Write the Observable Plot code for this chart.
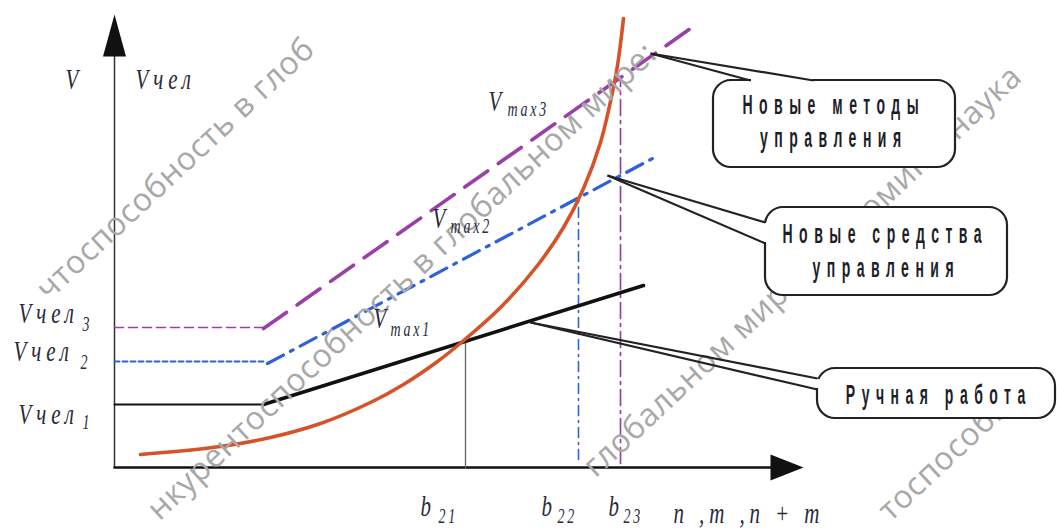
<!DOCTYPE html>
<html><head><meta charset="utf-8">
<script src="https://cdn.jsdelivr.net/npm/d3@7"></script>
<script src="https://cdn.jsdelivr.net/npm/@observablehq/plot@0.6"></script>
<style>
body{margin:0;background:#fff;}
#chart svg{display:block;}
</style></head><body><div id="chart"></div>
<script>
// ---- schematic data (abstract units: x — scale n, m, n+m; y — speed V) ----
// Ручная работа (manual work)
const manualFlatX = [0, 14.9], manualFlatY = [6.3, 6.3];
const manualRiseX = [14.9, 52.9], manualRiseY = [6.3, 18.2];
// Новые средства управления (new means of management)
const meansFlatX = [0, 15.1], meansFlatY = [10.6, 10.6];
const meansRiseX = [15.3, 53.8], meansRiseY = [10.4, 30.9];
// Новые методы управления (new methods of management)
const methodsFlatX = [0, 14.9], methodsFlatY = [14.0, 14.0];
const methodsRiseX = [14.9, 57.6], methodsRiseY = [13.9, 43.9];
// rising curve
const curveX = [2.6, 10.6, 15.6, 20.6, 25.6, 28.9, 32.3, 34.8, 38.6, 42.3, 44.9, 46.9, 48.6, 49.6, 50.3, 50.9];
const curveY = [1.3, 2.1, 3.0, 4.4, 6.5, 8.3, 10.6, 12.6, 16.0, 20.2, 24.0, 27.9, 32.5, 36.6, 40.2, 44.9];
// break points b21, b22, b23
const breakX = [35.1, 46.4, 50.6];
const breakTop = [12.7, 27.0, 39.0];
// axes extents
const xAxisEnd = 65.6, xArrowTip = 68.9;
const yAxisEnd = 41.2, yArrowTip = 45.3;

// labels
const mainLabels = ["V", "Vчел", "Vчел", "Vчел", "Vчел", "V", "V", "V", "b", "b", "b", "n ,m ,n + m"];
const mainLabelX = [-4.9, 2.1, -9.6, -10.1, -9.6, 37.4, 31.8, 25.9, 30.6, 42.7, 49.4, 55.9];
const mainLabelY = [37.9, 37.9, 14.5, 10.7, 4.4, 35.7, 24.0, 14.0, -4.8, -4.8, -4.8, -5.5];
const subLabels = ["3", "2", "1", "max3", "max2", "max1", "21", "22", "23"];
const subLabelX = [-3.2, -3.4, -3.2, 39.3, 33.6, 27.6, 32.4, 44.3, 50.9];
const subLabelY = [13.7, 9.9, 3.9, 35.2, 23.5, 13.2, -5.5, -5.5, -5.5];

// callouts
const boxX1 = [59.9, 65.1, 70.3], boxX2 = [84.1, 89.3, 94.1];
const boxY1 = [30.0, 17.2, 4.9], boxY2 = [38.7, 26.0, 9.9];
const tailTipX = [53.6, 49.3, 41.6], tailTipY = [41.4, 29.2, 14.5];
const tailAX = [63.6, 65.1, 70.3], tailAY = [38.7, 24.5, 8.9];
const tailBX = [69.9, 65.1, 70.3], tailBY = [38.7, 22.4, 7.8];
const calloutText = ["Новые методы", "управления", "Новые средства", "управления", "Ручная работа"];
const calloutX = [71.6, 71.6, 76.75, 76.85, 82.1];
const calloutY = [35.4, 32.1, 22.5, 19.1, 6.4];

// watermark fragments visible in the picture
const watermarkText = ["чтоспособность в глоб", "нкурентоспособность в глобальном мире:", "глобальном мире: экономика, наука", "тоспособнос"];
const watermarkX = [-6.6, 4.5, 48.1, 77.6];
const watermarkY = [16.6, -5.4, -1.1, -5.5];

// ---- build ----
const pts = (xs, ys) => d3.zip(xs, ys);
const arrowUp = {draw(c) { c.moveTo(0, 0); c.lineTo(-11.5, 42); c.lineTo(11.5, 42); c.closePath(); }};
const arrowRight = {draw(c) { c.moveTo(0, 0); c.lineTo(-33, -13); c.lineTo(-33, 13); c.closePath(); }};

const boxes = boxX1.map((d, i) => ({x1: boxX1[i], x2: boxX2[i], y1: boxY1[i], y2: boxY2[i]}));
const tails = [];
tailTipX.forEach((d, i) => {
  tails.push({x1: tailTipX[i], y1: tailTipY[i], x2: tailAX[i], y2: tailAY[i]});
  tails.push({x1: tailTipX[i], y1: tailTipY[i], x2: tailBX[i], y2: tailBY[i]});
});
const gaps = tailAX.map((d, i) => {
  const vertical = tailAX[i] === tailBX[i];
  return {
    x1: Math.min(tailAX[i], tailBX[i]) + (vertical ? -0.25 : 0.1),
    x2: Math.max(tailAX[i], tailBX[i]) + (vertical ? 0.25 : -0.1),
    y1: Math.min(tailAY[i], tailBY[i]) + (vertical ? 0.1 : -0.25),
    y2: Math.max(tailAY[i], tailBY[i]) + (vertical ? -0.1 : 0.25)
  };
});

const orange = "#d6532a", blue = "#2e62d6", purple = "#9a3ea8";
const serifFont = "'Liberation Serif', 'DejaVu Serif', serif";
const sansFont = "'Liberation Sans', Arial, sans-serif";

const chart = Plot.plot({
  width: 1057, height: 528,
  marginTop: 0, marginRight: 0, marginBottom: 0, marginLeft: 0,
  x: {domain: [0, 100], range: [114, 1114], axis: null},
  y: {domain: [0, 100], range: [467, -533], axis: null},
  marks: [
    // axes
    Plot.line(pts([0, 0], [0, yAxisEnd]), {stroke: "#333", strokeWidth: 1.5}),
    Plot.line(pts([0, xAxisEnd], [0, 0]), {stroke: "#111", strokeWidth: 2.5}),
    Plot.dot([[0, yArrowTip]], {symbol: arrowUp, r: 5, fill: "#111", stroke: "none"}),
    Plot.dot([[xArrowTip, 0]], {symbol: arrowRight, r: 5, fill: "#111", stroke: "none"}),
    // break-point verticals
    Plot.line(pts([breakX[0], breakX[0]], [0, breakTop[0]]), {stroke: "#666", strokeWidth: 1.3}),
    Plot.line(pts([breakX[1], breakX[1]], [0.8, breakTop[1]]), {stroke: blue, strokeWidth: 1.6, strokeDasharray: "10,5,2,5"}),
    Plot.line(pts([breakX[2], breakX[2]], [0.4, breakTop[2]]), {stroke: purple, strokeWidth: 1.7, strokeDasharray: "16,5,3,5"}),
    // flat parts
    Plot.line(pts(methodsFlatX, methodsFlatY), {stroke: purple, strokeWidth: 1.6, strokeDasharray: "9,5"}),
    Plot.line(pts(meansFlatX, meansFlatY), {stroke: blue, strokeWidth: 1.8, strokeDasharray: "5,3"}),
    Plot.line(pts(manualFlatX, manualFlatY), {stroke: "#111", strokeWidth: 2}),
    // rising parts
    Plot.line(pts(methodsRiseX, methodsRiseY), {stroke: purple, strokeWidth: 3.6, strokeDasharray: "28,13"}),
    Plot.line(pts(meansRiseX, meansRiseY), {stroke: blue, strokeWidth: 3.2, strokeDasharray: "18,8,3,8"}),
    Plot.line(pts(manualRiseX, manualRiseY), {stroke: "#111", strokeWidth: 3.6}),
    // curve
    Plot.line(pts(curveX, curveY), {stroke: orange, strokeWidth: 3.6, curve: "catmull-rom"}),
    // watermark
    Plot.text(watermarkText, {x: (d, i) => watermarkX[i], y: (d, i) => watermarkY[i], text: d => d, rotate: -43,
      fontFamily: "'Open Sans', sans-serif", fontSize: 32, fill: "#a8a8a8", textAnchor: "start", lineAnchor: "bottom"}),
    // callouts
    Plot.rect(boxes, {x1: "x1", x2: "x2", y1: "y1", y2: "y2", rx: 18, fill: "white", stroke: "#222", strokeWidth: 2.2}),
    Plot.rect(gaps, {x1: "x1", x2: "x2", y1: "y1", y2: "y2", fill: "white"}),
    Plot.link(tails, {x1: "x1", y1: "y1", x2: "x2", y2: "y2", stroke: "#222", strokeWidth: 2.2}),
    Plot.text(calloutText, {x: (d, i) => calloutX[i], y: (d, i) => calloutY[i], text: d => d,
      fontFamily: sansFont, fontWeight: "bold", fontSize: 28, fill: "#1e1e2a", textAnchor: "middle", lineAnchor: "bottom"}),
    // serif italic labels
    Plot.text(mainLabels, {x: (d, i) => mainLabelX[i], y: (d, i) => mainLabelY[i], text: d => d,
      fontFamily: serifFont, fontStyle: "italic", fontSize: 30, fill: "#2a2a3a", textAnchor: "start", lineAnchor: "bottom"}),
    Plot.text(subLabels, {x: (d, i) => subLabelX[i], y: (d, i) => subLabelY[i], text: d => d,
      fontFamily: serifFont, fontStyle: "italic", fontSize: 20, fill: "#2a2a3a", textAnchor: "start", lineAnchor: "bottom"})
  ]
});

// narrow, letter-spaced glyphs like the source figure (selected by each text layer's font size)
function condense(svg, size, s, spacing, centered) {
  svg.querySelectorAll("g").forEach(g => {
    if (parseFloat(g.getAttribute("font-size")) !== size) return;
    g.querySelectorAll("text").forEach(t => {
      t.style.letterSpacing = spacing + "px";
      if (s === 1) return;
      const x = +t.getAttribute("x") || 0, y = +t.getAttribute("y") || 0;
      t.removeAttribute("x"); t.removeAttribute("y");
      const tr = t.getAttribute("transform") || "";
      t.setAttribute("transform", `${tr} translate(${x},${y}) scale(${s},1)${centered ? ` translate(${spacing / 2},0)` : ""}`);
    });
  });
}
condense(chart, 30, 0.7, 7, false);
condense(chart, 20, 0.7, 4, false);
condense(chart, 28, 0.5, 13, true);
condense(chart, 32, 1, 0.5, false);

document.getElementById("chart").append(chart);
</script></body></html>
